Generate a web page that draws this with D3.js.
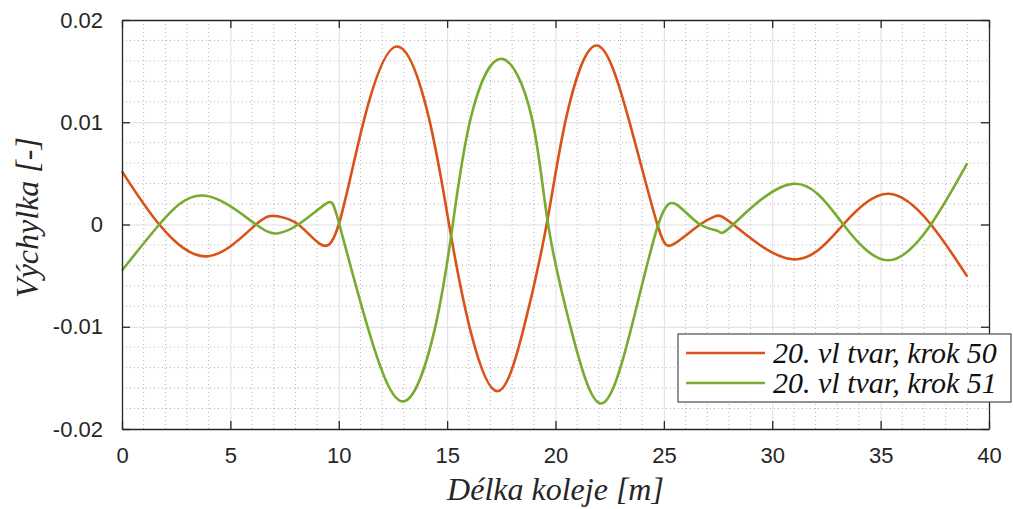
<!DOCTYPE html>
<html>
<head>
<meta charset="utf-8">
<script src="https://cdn.jsdelivr.net/npm/d3@7"></script>
<style>
    body { margin: 0; background: #fff; }
    svg { display: block; }
</style>
</head>
<body>
<div id="chart"></div>
<script>
// values
const X_KROK50 = [0, 1.72, 3.98, 6.18, 7.18, 8.13, 9.13, 10.0, 11.2, 12.72, 14.15, 15.09, 16.09, 17.32, 18.49, 19.59, 20.5, 21.87, 23.35, 24.7, 25.47, 26.67, 27.36, 28.2, 30.94, 33.28, 35.36, 37.32, 39];
const Y_KROK50 = [0.0052, 0, -0.0031, 0, 0.0008, 0, -0.0019, 0, 0.0105, 0.0174, 0.0105, 0, -0.0105, -0.0163, -0.0105, 0, 0.0105, 0.0175, 0.0105, 0, -0.0019, 0, 0.0008, 0, -0.0034, 0, 0.0030, 0, -0.0051];

const X_KROK51 = [0, 1.72, 3.78, 6.18, 7.21, 8.13, 9.40, 10.03, 11.4, 12.98, 14.4, 15.26, 16.1, 17.49, 18.9, 19.66, 20.75, 22.08, 23.45, 24.74, 25.62, 26.67, 27.51, 28.2, 30.94, 33.28, 35.36, 37.32, 39];
const Y_KROK51 = [-0.0045, 0, 0.00283, 0, -0.00085, 0, 0.00202, 0, -0.0105, -0.0173, -0.0105, 0, 0.0105, 0.0162, 0.0105, 0, -0.0105, -0.0175, -0.0105, 0, 0.0019, 0, -0.00065, 0, 0.00397, 0, -0.0035, 0, 0.0060];

const SERIES_NAMES = ["20. vl tvar, krok 50", "20. vl tvar, krok 51"];
const SERIES_COLORS = ["#D95319", "#77AC30"];

const X_TICKS = [0, 5, 10, 15, 20, 25, 30, 35, 40];
const X_TICK_LABELS = ["0", "5", "10", "15", "20", "25", "30", "35", "40"];
const Y_TICKS = [-0.02, -0.01, 0, 0.01, 0.02];
const Y_TICK_LABELS = ["-0.02", "-0.01", "0", "0.01", "0.02"];

const X_LABEL = "Délka koleje [m]";
const Y_LABEL = "Výchylka [-]";

const MARGINS = { top: 20, right: 24, bottom: 80, left: 122 };
const BASE_DIMS = { WIDTH: 1013, HEIGHT: 509 };
const DIMENSIONS = {
    WIDTH: BASE_DIMS.WIDTH - MARGINS.left - MARGINS.right,
    HEIGHT: BASE_DIMS.HEIGHT - MARGINS.top - MARGINS.bottom
};
const AXIS_COLOR = "#262626";

const svg = d3.select("#chart").append("svg")
    .attr("width", BASE_DIMS.WIDTH)
    .attr("height", BASE_DIMS.HEIGHT);

const SVG = svg.append("g")
    .attr("transform", "translate(" + MARGINS.left + "," + MARGINS.top + ")");

const x = d3.scaleLinear().domain([0, 40]).range([0, DIMENSIONS.WIDTH]);
const y = d3.scaleLinear().domain([-0.02, 0.02]).range([DIMENSIONS.HEIGHT, 0]);

// minor grid (dotted)
const xMinor = d3.range(0, 41, 1).filter(v => v % 5 !== 0);
const yMinor = d3.range(-10, 11, 1).filter(v => v % 5 !== 0).map(v => v * 0.002);

SVG.append("g")
    .selectAll("line")
    .data(xMinor)
    .enter()
    .append("line")
    .attr("x1", d => x(d)).attr("x2", d => x(d))
    .attr("y1", 0).attr("y2", DIMENSIONS.HEIGHT)
    .attr("stroke", "#b4b4b4")
    .attr("stroke-width", 1)
    .attr("stroke-dasharray", "1,3");

SVG.append("g")
    .selectAll("line")
    .data(yMinor)
    .enter()
    .append("line")
    .attr("x1", 0).attr("x2", DIMENSIONS.WIDTH)
    .attr("y1", d => y(d)).attr("y2", d => y(d))
    .attr("stroke", "#b4b4b4")
    .attr("stroke-width", 1)
    .attr("stroke-dasharray", "1,3");

// major grid
SVG.append("g")
    .attr("transform", "translate(0," + DIMENSIONS.HEIGHT + ")")
    .call(d3.axisBottom(x).tickValues(X_TICKS).tickSize(-DIMENSIONS.HEIGHT).tickFormat(""))
    .call(g => g.select(".domain").remove())
    .call(g => g.selectAll("line").attr("stroke", "#dfdfdf"));

SVG.append("g")
    .call(d3.axisLeft(y).tickValues(Y_TICKS).tickSize(-DIMENSIONS.WIDTH).tickFormat(""))
    .call(g => g.select(".domain").remove())
    .call(g => g.selectAll("line").attr("stroke", "#dfdfdf"));

// lines
const line = d3.line()
    .x(d => x(d[0]))
    .y(d => y(d[1]))
    .curve(d3.curveNatural);

const seriesData = [
    d3.zip(X_KROK50, Y_KROK50),
    d3.zip(X_KROK51, Y_KROK51)
];

SVG.append("g")
    .selectAll("path")
    .data(seriesData)
    .enter()
    .append("path")
    .attr("d", line)
    .attr("fill", "none")
    .attr("stroke", (d, i) => SERIES_COLORS[i])
    .attr("stroke-width", 2.6)
    .attr("stroke-linejoin", "round");

// axes with inward ticks
const TICK = 8;
function styleAxis(g) {
    g.select(".domain").attr("stroke", AXIS_COLOR).attr("stroke-width", 1.3);
    g.selectAll(".tick line").attr("stroke", AXIS_COLOR).attr("stroke-width", 1.3);
    g.selectAll("text")
        .attr("fill", AXIS_COLOR)
        .style("font-family", "'Liberation Sans', Arial, sans-serif")
        .style("font-size", "22px");
}

SVG.append("g")
    .attr("transform", "translate(0," + DIMENSIONS.HEIGHT + ")")
    .call(d3.axisBottom(x).tickValues(X_TICKS).tickSizeInner(-TICK).tickSizeOuter(0)
        .tickPadding(TICK + 10).tickFormat((d, i) => X_TICK_LABELS[i]))
    .call(styleAxis);

SVG.append("g")
    .call(d3.axisTop(x).tickValues(X_TICKS).tickSizeInner(-TICK).tickSizeOuter(0).tickFormat(""))
    .call(styleAxis);

SVG.append("g")
    .call(d3.axisLeft(y).tickValues(Y_TICKS).tickSizeInner(-TICK).tickSizeOuter(0)
        .tickPadding(TICK + 11).tickFormat((d, i) => Y_TICK_LABELS[i]))
    .call(styleAxis);

SVG.append("g")
    .attr("transform", "translate(" + DIMENSIONS.WIDTH + ",0)")
    .call(d3.axisRight(y).tickValues(Y_TICKS).tickSizeInner(-TICK).tickSizeOuter(0).tickFormat(""))
    .call(styleAxis);

// axis titles
const TITLE_FONT = "'Liberation Serif', 'DejaVu Serif', serif";

svg.append("text")
    .attr("x", MARGINS.left + DIMENSIONS.WIDTH / 2)
    .attr("y", 500)
    .attr("text-anchor", "middle")
    .attr("fill", AXIS_COLOR)
    .style("font-family", TITLE_FONT)
    .style("font-style", "italic")
    .style("font-size", "32px")
    .text(X_LABEL);

svg.append("text")
    .attr("transform", "translate(38," + (MARGINS.top + DIMENSIONS.HEIGHT / 2 - 7) + ") rotate(-90)")
    .attr("text-anchor", "middle")
    .attr("fill", AXIS_COLOR)
    .style("font-family", TITLE_FONT)
    .style("font-style", "italic")
    .style("font-size", "32px")
    .text(Y_LABEL);

// legend
const legend = svg.append("g").attr("transform", "translate(678,334)");
legend.append("rect")
    .attr("x", 0).attr("y", 0)
    .attr("width", 333).attr("height", 68)
    .attr("fill", "#fff")
    .attr("stroke", AXIS_COLOR)
    .attr("stroke-width", 1);

const items = legend.selectAll(".item")
    .data(SERIES_NAMES)
    .enter()
    .append("g")
    .attr("class", "item")
    .attr("transform", (d, i) => "translate(0," + (19 + i * 30) + ")");

items.append("line")
    .attr("x1", 8).attr("x2", 87)
    .attr("y1", 0).attr("y2", 0)
    .attr("stroke", (d, i) => SERIES_COLORS[i])
    .attr("stroke-width", 2.6);

items.append("text")
    .attr("x", 95)
    .attr("y", 10)
    .attr("fill", "#111")
    .style("font-family", TITLE_FONT)
    .style("font-style", "italic")
    .style("font-size", "30px")
    .text(d => d);
</script>
</body>
</html>
